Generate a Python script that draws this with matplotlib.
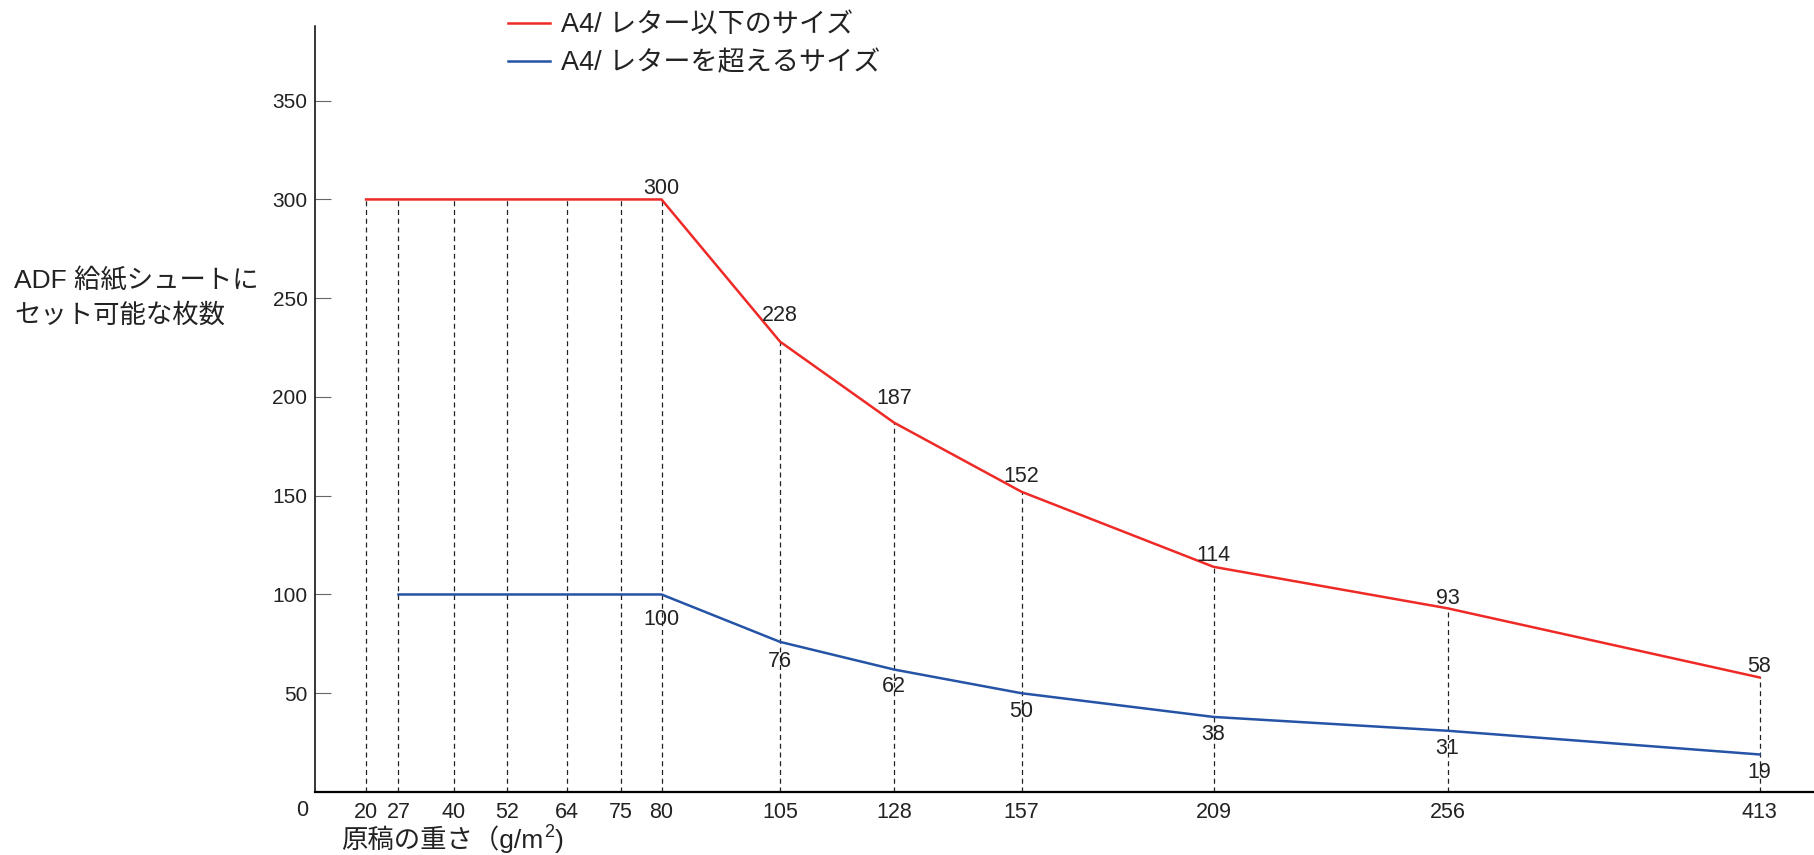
import numpy as np
import matplotlib.pyplot as plt

# paper weight (g/m2) and sheets that fit into the ADF chute
weights = [20, 27, 40, 52, 64, 75, 80, 105, 128, 157, 209, 256, 413]
small_sheets = [300, 300, 300, 300, 300, 300, 300, 228, 187, 152, 114, 93, 58]
large_weights = [27, 40, 52, 64, 75, 80, 105, 128, 157, 209, 256, 413]
large_sheets = [100, 100, 100, 100, 100, 100, 76, 62, 50, 38, 31, 19]
labeled_weights = [80, 105, 128, 157, 209, 256, 413]

label_small = "A4/ レター以下のサイズ"
label_large = "A4/ レターを超えるサイズ"

# vertical offsets (points) of the value labels, as placed in the original
small_label_dy = [8, 18.5, 17.5, 11, 8.5, 7, 8]
large_label_dy = [-18, -14, -12.5, -13, -13, -13, -13]

# the x axis is not linear: each weight sits at a fixed place along the axis
scale_w = [0, 20, 27, 40, 52, 64, 75, 80, 105, 128, 157, 209, 256, 413, 441]
scale_pos = [0, 0.034, 0.0556, 0.0926, 0.128, 0.168, 0.204, 0.231, 0.310,
             0.386, 0.471, 0.599, 0.755, 0.963, 1.0]

FONT = ['Liberation Sans', 'Noto Sans CJK JP']
plt.rcParams['font.family'] = FONT

red = '#ee2a26'
blue = '#2553a6'
ink = '#222222'


def fwd(x):
    return np.interp(x, scale_w, scale_pos)


def inv(p):
    return np.interp(p, scale_pos, scale_w)


def main():
    fig = plt.figure(figsize=(18.15, 8.55), dpi=100)
    ax = fig.add_axes([0.1736, 0.0737, 0.8264, 0.8963])
    ax.set_xscale('function', functions=(fwd, inv))
    ax.set_xlim(0, 441)
    ax.set_ylim(0, 388)

    ax.vlines(weights, 0, small_sheets, colors=ink, linewidth=0.9,
              linestyles=(0, (4, 3)), zorder=1)
    ax.plot(weights, small_sheets, color=red, linewidth=1.8, label=label_small, zorder=3)
    ax.plot(large_weights, large_sheets, color=blue, linewidth=1.8, label=label_large, zorder=3)

    i = 0
    for w, v in zip(weights, small_sheets):
        if w in labeled_weights:
            ax.annotate(str(v), (w, v), xytext=(0, small_label_dy[i]), textcoords='offset points',
                        ha='center', va='center', fontsize=15.5, color=ink)
            i += 1
    i = 0
    for w, v in zip(large_weights, large_sheets):
        if w in labeled_weights:
            ax.annotate(str(v), (w, v), xytext=(0, large_label_dy[i]), textcoords='offset points',
                        ha='center', va='center', fontsize=15.5, color=ink)
            i += 1

    for s in ['top', 'right']:
        ax.spines[s].set_visible(False)
    ax.spines['left'].set_linewidth(1.1)
    ax.spines['bottom'].set_linewidth(1.6)

    ax.set_yticks([50, 100, 150, 200, 250, 300, 350])
    ax.tick_params(axis='y', direction='in', length=11.5, width=0.8, color='#666666',
                   pad=5.5, labelsize=15, labelcolor=ink)

    ax.set_xticks(weights)
    ax.set_xticklabels([str(w) for w in weights])
    ax.tick_params(axis='x', length=0, pad=7.5, labelsize=15.5, labelcolor=ink)
    ax.minorticks_off()

    ax.annotate('0', (0, 0), xycoords='axes fraction', xytext=(-9, -13.5),
                textcoords='offset points', ha='center', va='center',
                fontsize=15.5, color=ink)

    # x label with a raised "2"
    renderer = fig.canvas.get_renderer()
    base = fig.text(341 / 1815, 1 - 848 / 855, '原稿の重さ（g/m', ha='left', va='baseline',
                    fontsize=19, color=ink)
    bb = base.get_window_extent(renderer)
    sup = ax.annotate('2', (bb.x1 / fig.bbox.width, base.get_position()[1]),
                      xycoords='figure fraction', xytext=(0.5, 8), textcoords='offset points',
                      ha='left', va='baseline', fontsize=13, color=ink)
    sb = sup.get_window_extent(renderer)
    ax.annotate(')', (sb.x1 / fig.bbox.width, base.get_position()[1]),
                xycoords='figure fraction', xytext=(0.5, 0), textcoords='offset points',
                ha='left', va='baseline', fontsize=19, color=ink)

    fig.text(14 / 1815, 1 - 298 / 855, 'ADF 給紙シュートに\nセット可能な枚数', ha='left',
             va='center', fontsize=19, linespacing=1.5, color=ink)

    fig.legend(loc='upper left', bbox_to_anchor=(508 / 1815, 1 - 12 / 855), frameon=False,
               prop={'size': 19.5}, handlelength=1.55, handletextpad=0.4,
               labelspacing=0.45, borderpad=0, borderaxespad=0, labelcolor=ink)

    fig.savefig('out.png', dpi=100)


if __name__ == "__main__":
    main()
